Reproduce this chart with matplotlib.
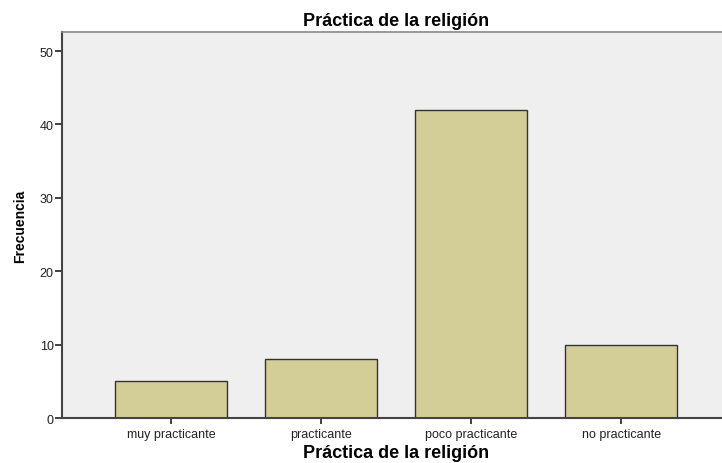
import numpy as np
import matplotlib.pyplot as plt

plt.rcParams['font.family'] = ['Liberation Sans', 'DejaVu Sans']

# data
categorias = ['muy practicante', 'practicante', 'poco practicante', 'no practicante']
frecuencia = [5, 8, 42, 10]
y_ticks = [0, 10, 20, 30, 40, 50]

fig = plt.figure(figsize=(7.22, 4.64), dpi=100)
ax = fig.add_axes([62 / 722, 1 - 419 / 464, 1 - 62 / 722 + 0.01, (419 - 33) / 464])
ax.set_facecolor('#efefef')

x = np.arange(len(categorias))
ax.bar(x, frecuencia, width=0.75, color='#d3ce97', edgecolor='#333333', linewidth=1.0, zorder=2)

ax.set_xlim(-0.727, 3.72)
ax.set_ylim(0, 52.6)
ax.set_xticks(x)
ax.set_xticklabels(categorias, fontsize=9)
ax.set_yticks(y_ticks)
ax.set_yticklabels([str(v) for v in y_ticks], fontsize=9)
ax.tick_params(axis='y', direction='out', length=5, width=1.2, pad=1, colors='#222222')
ax.tick_params(axis='x', direction='out', length=4, width=1.2, pad=3, colors='#222222')

for s in ['left', 'bottom']:
    ax.spines[s].set_color('#444444')
    ax.spines[s].set_linewidth(1.5)
ax.spines['top'].set_color('#888888')
ax.spines['top'].set_linewidth(1.2)
ax.spines['right'].set_visible(False)

ax.set_title('Práctica de la religión', fontsize=13, fontweight='bold', pad=5)
ax.set_xlabel('Práctica de la religión', fontsize=13, fontweight='bold', labelpad=3)
ax.set_ylabel('Frecuencia', fontsize=10, fontweight='bold', labelpad=9)

fig.savefig('out.png', dpi=100)
